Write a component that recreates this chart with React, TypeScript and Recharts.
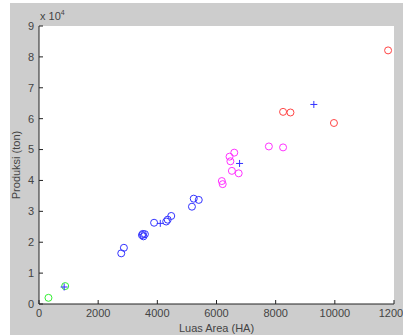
import React from 'react'
import { ScatterChart, Scatter, XAxis, YAxis, CartesianGrid } from 'recharts'

// luas area (HA) vs produksi (ton), one array per cluster
const greenPts = [
  { x: 320, y: 2000 },
  { x: 885, y: 5800 },
]
const bluePts = [
  { x: 2780, y: 16400 },
  { x: 2870, y: 18200 },
  { x: 3480, y: 22300 },
  { x: 3530, y: 21900 },
  { x: 3580, y: 22600 },
  { x: 3510, y: 22700 },
  { x: 3890, y: 26300 },
  { x: 4300, y: 26700 },
  { x: 4350, y: 27300 },
  { x: 4470, y: 28500 },
  { x: 5170, y: 31500 },
  { x: 5230, y: 34100 },
  { x: 5400, y: 33700 },
]
const magentaPts = [
  { x: 6180, y: 39800 },
  { x: 6210, y: 38800 },
  { x: 6440, y: 47700 },
  { x: 6470, y: 46200 },
  { x: 6600, y: 49000 },
  { x: 6520, y: 43100 },
  { x: 6750, y: 42300 },
  { x: 7770, y: 51000 },
  { x: 8250, y: 50700 },
]
const redPts = [
  { x: 8250, y: 62200 },
  { x: 8500, y: 62000 },
  { x: 9970, y: 58600 },
  { x: 11800, y: 82100 },
]
const centroids = [
  { x: 850, y: 5500 },
  { x: 4100, y: 26100 },
  { x: 6780, y: 45500 },
  { x: 9290, y: 64600 },
]

const xTicks = [0, 2000, 4000, 6000, 8000, 10000, 12000]
const yTicks = [0, 10000, 20000, 30000, 40000, 50000, 60000, 70000, 80000, 90000]
const yTopLabel = '9'

const fontFamily = 'Liberation Sans, Arial, sans-serif'
const font = { fontSize: 11, fontFamily, fill: '#444' }
const axisColor = '#222'

const ring = (color: string) => (p: any) => (
  <circle cx={p.cx} cy={p.cy} r={3.5} fill="none" stroke={color} strokeWidth={1} />
)

const plus = (p: any) => (
  <g stroke="#3333ff" strokeWidth={1}>
    <line x1={p.cx - 3.5} y1={p.cy} x2={p.cx + 3.5} y2={p.cy} />
    <line x1={p.cx} y1={p.cy - 3.5} x2={p.cx} y2={p.cy + 3.5} />
  </g>
)

export default function App() {
  return (
    <div style={{ position: 'absolute', left: 0, top: 0, width: 403, height: 335, background: '#fff', overflow: 'hidden' }}>
      <div style={{ position: 'absolute', left: 10, top: 3, width: 393, height: 332, background: '#cdcdcd' }} />
      <div style={{ position: 'absolute', left: 40, top: 9, fontSize: 11, fontFamily, color: '#444' }}>
        x 10<sup style={{ fontSize: 7 }}>4</sup>
      </div>
      {/* top y label, the axis keeps dropping it */}
      <div
        style={{
          position: 'absolute',
          right: 369,
          top: 20,
          fontSize: 11,
          lineHeight: '12px',
          fontFamily,
          color: '#444',
        }}
      >
        {yTopLabel}
      </div>
      <ScatterChart
        width={403}
        height={335}
        margin={{ top: 26, right: 9, left: 0, bottom: 0 }}
        style={{ position: 'absolute', left: 0, top: 0 }}
      >
        <CartesianGrid fill="#fff" stroke="transparent" />
        <XAxis
          type="number"
          dataKey="x"
          domain={[0, 12000]}
          ticks={xTicks}
          interval={0}
          height={31}
          tick={font}
          tickSize={-4}
          tickMargin={9}
          stroke={axisColor}
          label={{ value: 'Luas Area (HA)', position: 'insideBottom', offset: 3, style: font }}
        />
        <XAxis
          xAxisId="top"
          orientation="top"
          type="number"
          dataKey="x"
          domain={[0, 12000]}
          ticks={xTicks}
          interval={0}
          height={0}
          tickSize={-4}
          tickFormatter={() => ''}
          stroke={axisColor}
        />
        <YAxis
          type="number"
          dataKey="y"
          domain={[0, 90000]}
          ticks={yTicks}
          interval={0}
          width={39}
          tick={font}
          tickSize={-4}
          tickMargin={9}
          tickFormatter={(v: number) => (v === 90000 ? '' : String(v / 10000))}
          stroke={axisColor}
          label={{
            value: 'Produksi (ton)',
            angle: -90,
            position: 'insideLeft',
            offset: 16,
            style: { ...font, textAnchor: 'middle' },
          }}
        />
        <YAxis
          yAxisId="right"
          orientation="right"
          type="number"
          dataKey="y"
          domain={[0, 90000]}
          ticks={yTicks}
          interval={0}
          width={0}
          tickSize={-4}
          tickFormatter={() => ''}
          stroke={axisColor}
        />
        <Scatter data={greenPts} shape={ring('#33ee33')} isAnimationActive={false} />
        <Scatter data={bluePts} shape={ring('#3333ff')} isAnimationActive={false} />
        <Scatter data={magentaPts} shape={ring('#ff33ff')} isAnimationActive={false} />
        <Scatter data={redPts} shape={ring('#ff4444')} isAnimationActive={false} />
        <Scatter data={centroids} shape={plus} isAnimationActive={false} />
      </ScatterChart>
    </div>
  )
}
